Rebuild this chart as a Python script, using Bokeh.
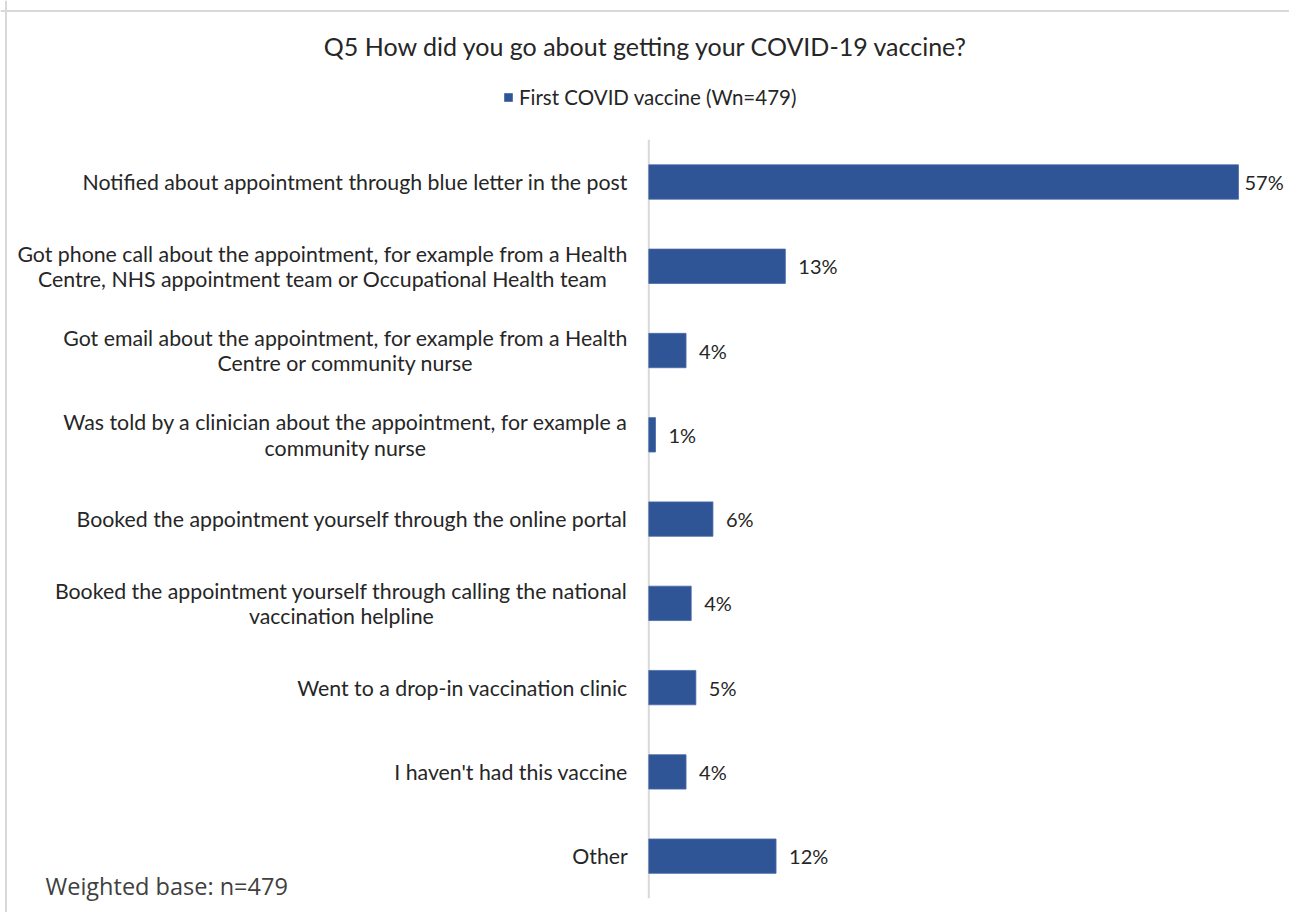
from bokeh.plotting import figure
from bokeh.models import Range1d, ColumnDataSource, Span, Label, Legend, LegendItem
from bokeh.embed import file_html
from bokeh.resources import INLINE
from bokeh.core.properties import value

# ---------------- data ----------------
title_text = "Q5 How did you go about getting your  COVID-19 vaccine?"
series_name = "First COVID vaccine (Wn=479)"
footnote_text = "Weighted base: n=479"

categories = [
    "Notified about appointment through blue letter in the post",
    "Got phone call about the appointment, for example from a Health\nCentre, NHS appointment team or Occupational Health team",
    "Got email about the appointment, for example from a Health\nCentre or community nurse",
    "Was told by a clinician about the appointment, for example a\ncommunity nurse",
    "Booked the appointment yourself through the online portal",
    "Booked the appointment yourself through calling the national\nvaccination helpline",
    "Went to a drop-in vaccination clinic",
    "I haven't had this vaccine",
    "Other",
]
values = [57.0, 13.2, 3.6, 0.65, 6.2, 4.1, 4.55, 3.6, 12.3]

# ---------------- layout constants ----------------
W, H = 1289, 912
X0_PX = 648.3        # pixel of the value axis (0%)
PX_PER_PCT = 10.345  # pixels per percentage point
Y_FIRST_PX = 181.5   # pixel centre of first category (from top)
BAND_PX = 84.27      # pixels between category centres

BAR_COLOR = "#2F5597"
TEXT_COLOR = "#262626"
FONT = "Lato"

x_start = -X0_PX / PX_PER_PCT
x_end = (W - X0_PX) / PX_PER_PCT
y_end = -Y_FIRST_PX / BAND_PX          # top of frame
y_start = y_end + H / BAND_PX          # bottom of frame (y grows downwards)

p = figure(width=W, height=H, output_backend="svg", toolbar_location=None,
           x_range=Range1d(x_start, x_end), y_range=Range1d(y_start, y_end),
           x_axis_location=None, y_axis_location=None, title=None,
           min_border=0, min_border_left=0, min_border_right=0,
           min_border_top=0, min_border_bottom=0)
p.grid.visible = False
p.outline_line_color = None
p.background_fill_color = "white"
p.border_fill_color = "white"

n = len(categories)
idx = list(range(n))
labels = [f"{v:.0f}%" for v in values]
vmax = max(values)
offsets = [6 if v == vmax else 13 for v in values]

src = ColumnDataSource(dict(y=idx, v=values, cat=categories, lab=labels, off=offsets,
                            zero=[0] * n))

# chart border (top and left edges of the chart area)
p.add_layout(Span(location=(5.5 - X0_PX) / PX_PER_PCT, dimension="height",
                  line_color="#d9d9d9", line_width=2))
p.add_layout(Span(location=(10.5 - Y_FIRST_PX) / BAND_PX, dimension="width",
                  line_color="#d9d9d9", line_width=2))

# category axis line
p.segment(x0=[0], x1=[0], y0=[-0.5], y1=[n - 0.5], line_color="#d9d9d9", line_width=2)

bars = p.hbar(y="y", left="zero", right="v", height=0.408, source=src,
              fill_color=BAR_COLOR, line_color="#4a6aa8", line_width=0.8)

# category labels
p.text(x="zero", y="y", text="cat", source=src, x_offset=-21,
       anchor="center_right", text_align="center", text_baseline="middle",
       text_font=value(FONT), text_font_size="21.3px", text_color=TEXT_COLOR,
       text_line_height=0.98)

# value labels
p.text(x="v", y="y", text="lab", source=src, x_offset="off",
       text_align="left", text_baseline="middle",
       text_font=value(FONT), text_font_size="20px", text_color=TEXT_COLOR)

# title
p.add_layout(Label(x=649, y=H - 45, x_units="screen", y_units="screen",
                   text=title_text, text_align="center", text_baseline="middle",
                   text_font=FONT, text_font_size="25px", text_color=TEXT_COLOR))

# legend
legend = Legend(items=[LegendItem(label=series_name, renderers=[bars])],
                location=(503, H - 109), orientation="horizontal",
                glyph_width=10, glyph_height=10, label_standoff=6,
                padding=0, margin=0, spacing=0,
                border_line_color=None, background_fill_alpha=0,
                label_text_font=FONT, label_text_font_size="20.5px",
                label_text_color=TEXT_COLOR, label_height=20)
p.add_layout(legend, "center")

# footnote
p.add_layout(Label(x=45, y=H - 885, x_units="screen", y_units="screen",
                   text=footnote_text, text_align="left", text_baseline="middle",
                   text_font="Open Sans", text_font_size="23.5px", text_color="#404040"))

open("out.html", "w").write(file_html(p, INLINE))
